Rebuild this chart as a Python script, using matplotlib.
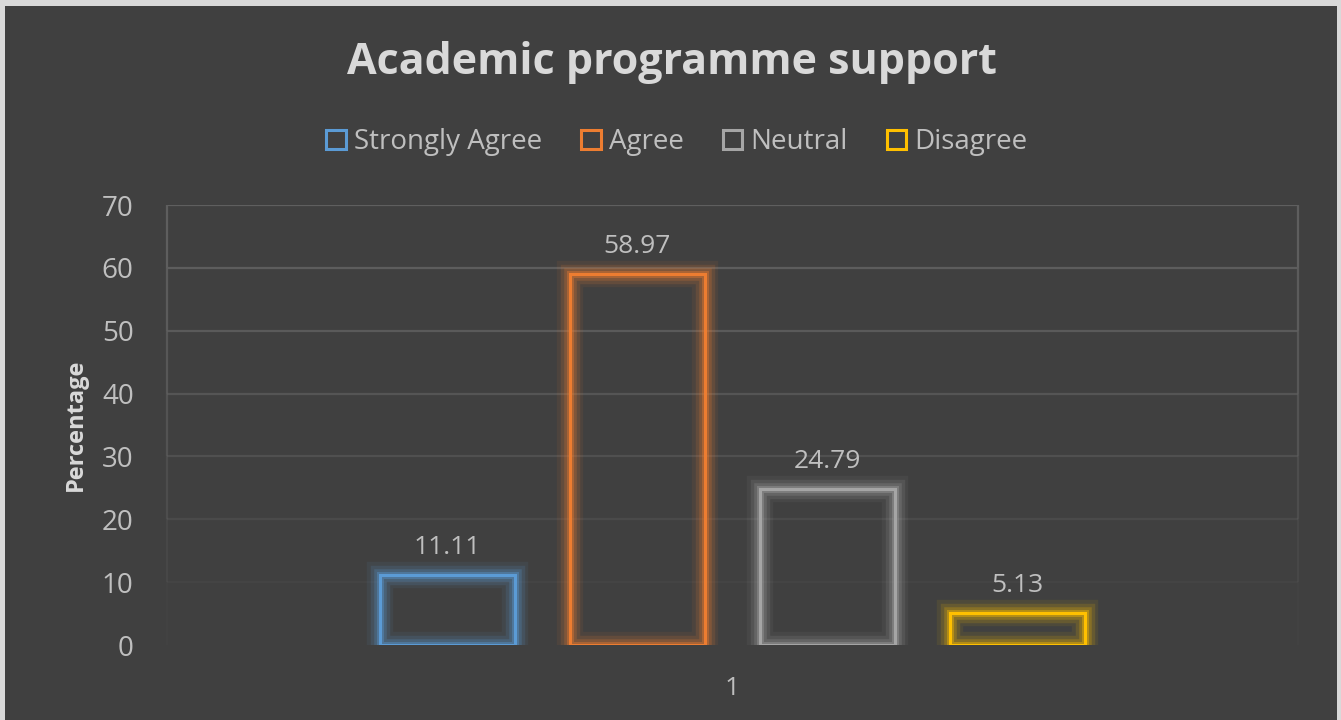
import matplotlib
matplotlib.use("Agg")
import matplotlib.pyplot as plt
import matplotlib.patheffects as pe
from matplotlib.patches import Rectangle, Patch

# Survey responses (percent) for the single category
categories = ["1"]
series_names = ["Strongly Agree", "Agree", "Neutral", "Disagree"]
series_values = [11.11, 58.97, 24.79, 5.13]
series_colors = ["#5B9BD5", "#ED7D31", "#A5A5A5", "#FFC000"]
y_ticks = [0, 10, 20, 30, 40, 50, 60, 70]

BG = "#404040"
TXT = "#bfbfbf"
FONT = ["Open Sans", "DejaVu Sans"]

W, H = 1341, 720
fig = plt.figure(figsize=(W / 100, H / 100), dpi=100)
fig.patch.set_facecolor("#d9d9d9")
fig.patches.append(Rectangle((5 / W, 0), 1332 / W, 714 / H, transform=fig.transFigure,
                             facecolor=BG, edgecolor="none", zorder=-10))

ax = fig.add_axes([167 / W, 1 - 645 / H, (1298 - 167) / W, (645 - 205) / H])
ax.set_facecolor("none")
ax.set_xlim(-0.5, 0.5)
ax.set_ylim(0, 70)

# Gridlines and plot frame fading toward the bottom
grid_alpha = {70: 1.0, 60: 0.95, 50: 0.85, 40: 0.7, 30: 0.55, 20: 0.35, 10: 0.15, 0: 0.0}
for t in y_ticks[1:]:
    ax.axhline(t, color="#5f5f5f", lw=1.6, alpha=grid_alpha[t], zorder=1)
for t0, t1 in zip(y_ticks[:-1], y_ticks[1:]):
    a = (grid_alpha[t0] + grid_alpha[t1]) / 2
    for xv in (-0.5, 0.5):
        ax.plot([xv, xv], [t0, t1], color="#5f5f5f", lw=1.6, alpha=a, zorder=1,
                solid_capstyle="butt", clip_on=False)

for s in ax.spines.values():
    s.set_visible(False)

# Clustered bars: outlined with a soft glow
bar_w = 0.12
step = 0.168
for i, (name, val, col) in enumerate(zip(series_names, series_values, series_colors)):
    x = (i - 1.5) * step
    bars = ax.bar(x, val, width=bar_w, facecolor="none", edgecolor=col, linewidth=2.2, zorder=3)
    bars[0].set_path_effects([
        pe.Stroke(linewidth=19, foreground=col, alpha=0.08),
        pe.Stroke(linewidth=14, foreground=col, alpha=0.14),
        pe.Stroke(linewidth=9, foreground=col, alpha=0.22),
        pe.Stroke(linewidth=5, foreground=col, alpha=0.38),
        pe.Normal(),
    ])
    ax.text(x, val + 2.4, f"{val:.2f}", ha="center", va="bottom", color=TXT,
            fontsize=19, family=FONT, zorder=4)

ax.set_yticks(y_ticks)
ax.set_yticklabels([str(t) for t in y_ticks], family=FONT, fontsize=20, color=TXT)
ax.tick_params(axis="y", length=0, pad=24)
ax.set_xticks([0])
ax.set_xticklabels(categories, family=FONT, fontsize=19, color=TXT)
ax.tick_params(axis="x", length=0, pad=22)

ax.set_ylabel("Percentage", family=FONT, fontsize=17, fontweight="bold", color="#d9d9d9",
              labelpad=10)

fig.text(672 / W, 1 - 62 / H, "Academic programme support", ha="center", va="center",
         family=FONT, fontsize=31, fontweight="bold", color="#d9d9d9")

handles = [Patch(facecolor="none", edgecolor=c, linewidth=2.2, label=n)
           for n, c in zip(series_names, series_colors)]
leg = fig.legend(handles=handles, loc="center", bbox_to_anchor=(677 / W, 1 - 142 / H),
                 ncol=4, frameon=False, handlelength=0.7, handleheight=0.7,
                 handletextpad=0.3, columnspacing=1.4,
                 prop={"family": FONT, "size": 20})
for t in leg.get_texts():
    t.set_color(TXT)

fig.savefig("out.png", dpi=100, facecolor=fig.get_facecolor())
